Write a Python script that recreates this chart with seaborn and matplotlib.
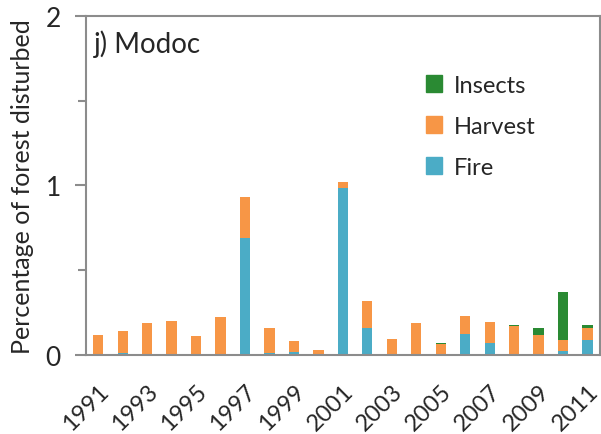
import numpy as np
import pandas as pd
import matplotlib
matplotlib.use("Agg")
import matplotlib.pyplot as plt
from matplotlib.patches import Patch
from matplotlib.ticker import FixedLocator, MultipleLocator
from matplotlib.transforms import ScaledTranslation
import seaborn as sns

years = list(range(1991, 2012))
fire = [0.0, 0.01, 0.0, 0.0, 0.0, 0.0, 0.69, 0.01, 0.02, 0.0, 0.985,
        0.16, 0.0, 0.005, 0.0, 0.122, 0.069, 0.0, 0.0, 0.022, 0.087]
harvest = [0.12, 0.13, 0.19, 0.20, 0.11, 0.225, 0.245, 0.15, 0.06, 0.03, 0.035,
           0.16, 0.093, 0.185, 0.065, 0.107, 0.124, 0.173, 0.12, 0.068, 0.073]
insects = [0.0, 0.0, 0.0, 0.0, 0.0, 0.0, 0.0, 0.0, 0.0, 0.0, 0.0,
           0.0, 0.0, 0.0, 0.005, 0.0, 0.0, 0.006, 0.04, 0.281, 0.016]

FIRE_C = "#4BACC6"
HARVEST_C = "#F79646"
INSECT_C = "#2A8A33"
AXIS_C = "#8C8C8C"

df = pd.DataFrame({"year": [str(y) for y in years],
                   "fire": fire, "harvest": harvest, "insects": insects})
df["fire_harvest"] = df["fire"] + df["harvest"]
df["total"] = df["fire_harvest"] + df["insects"]

sns.set_theme(style="white")
plt.rcParams["font.family"] = ["Lato", "DejaVu Sans"]

fig = plt.figure(figsize=(6.01, 4.35), dpi=100)
ax = fig.add_axes([0.143, 0.1816, 0.855, 0.7794])

# overlapping cumulative bars give the stacked look
for col, color in [("total", INSECT_C), ("fire_harvest", HARVEST_C), ("fire", FIRE_C)]:
    sns.barplot(data=df, x="year", y=col, color=color, width=0.42,
                saturation=1, ax=ax, linewidth=0)

ax.set_xlim(-0.5, len(years) - 0.5)
ax.set_ylim(0, 2)
ax.set_yticks([0, 1, 2])
ax.set_yticklabels(["0", "1", "2"], fontsize=19)
ax.yaxis.set_minor_locator(MultipleLocator(0.5))

ax.set_xticks(range(0, len(years), 2))
ax.set_xticklabels([str(y) for y in years[::2]], rotation=45, ha="right",
                   rotation_mode="anchor", fontsize=17)
shift = ScaledTranslation(-5 / 100, 0, fig.dpi_scale_trans)
for lab in ax.get_xticklabels():
    lab.set_transform(lab.get_transform() + shift)
ax.xaxis.set_minor_locator(FixedLocator(np.arange(-0.5, len(years), 1)))
ax.tick_params(axis="x", which="major", length=0, pad=18)
ax.tick_params(axis="x", which="minor", length=6, width=1.5, color=AXIS_C, direction="out")
ax.tick_params(axis="y", which="major", length=8, width=1.5, color=AXIS_C,
               direction="out", left=True, pad=10)
ax.tick_params(axis="y", which="minor", length=6, width=1.5, color=AXIS_C,
               direction="out", left=True)

for side in ["left", "right", "top", "bottom"]:
    ax.spines[side].set_color(AXIS_C)
    ax.spines[side].set_linewidth(1.5)

ax.set_xlabel("")
ax.set_ylabel("Percentage of forest disturbed", fontsize=18, labelpad=8)

ax.text(0.015, 0.96, "j) Modoc", transform=ax.transAxes, fontsize=20,
        ha="left", va="top")

handles = [Patch(color=INSECT_C, label="Insects"),
           Patch(color=HARVEST_C, label="Harvest"),
           Patch(color=FIRE_C, label="Fire")]
ax.legend(handles=handles, loc="upper left", bbox_to_anchor=(0.62, 0.89),
          frameon=False, fontsize=17, handlelength=0.7, handleheight=0.7,
          handletextpad=0.5, labelspacing=0.85)

fig.savefig("out.png", dpi=100)
